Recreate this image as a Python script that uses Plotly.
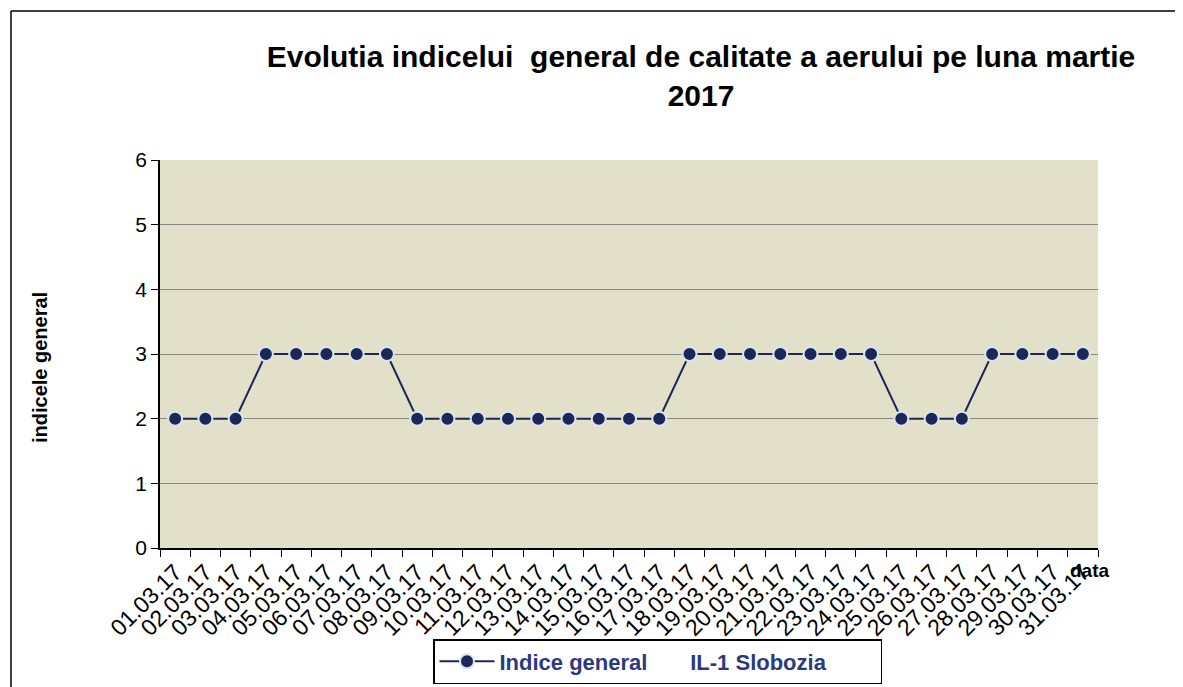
import plotly.graph_objects as go

dates = [f"{d:02d}.03.17" for d in range(1, 32)]
values = [2, 2, 2,
          3, 3, 3, 3, 3,
          2, 2, 2, 2, 2, 2, 2, 2, 2,
          3, 3, 3, 3, 3, 3, 3,
          2, 2, 2,
          3, 3, 3, 3]
y_ticks = [0, 1, 2, 3, 4, 5, 6]

OFF = 8  # page body margin
W, H = 1183 - OFF, 687 - OFF
# screen coordinates of the plot area
L, R, T, B = 160, 1098, 160, 548
def px(x):
    return (x - L) / (R - L)
def py(y):
    return (B - y) / (B - T)

navy = "#1c2657"
fig = go.Figure()
fig.add_trace(go.Scatter(
    x=dates, y=values, mode="lines+markers",
    name="Indice general&nbsp;&nbsp;&nbsp;&nbsp;&nbsp;&nbsp;&nbsp;IL-1 Slobozia&nbsp;&nbsp;&nbsp;&nbsp;&nbsp;&nbsp;&nbsp;&nbsp;",
    line=dict(color=navy, width=2),
    marker=dict(color=navy, size=14, line=dict(color="#d8e4f0", width=2)),
))

fig.update_layout(
    width=W, height=H,
    margin=dict(l=L - OFF, r=1183 - R, t=T - OFF, b=687 - B, autoexpand=False),
    paper_bgcolor="white",
    plot_bgcolor="#e3e0c9",
    font=dict(family="Arial, Liberation Sans, sans-serif", color="black"),
    title=dict(
        text="<b>Evolutia indicelui  general de calitate a aerului pe luna martie<br>2017</b>",
        font=dict(family="Liberation Sans Narrow, Arial Narrow, Arial, sans-serif", size=30, color="black"),
        x=(701 - OFF) / W, xanchor="center", y=1 - (67 - OFF) / H, yanchor="middle",
    ),
    showlegend=True,
    legend=dict(
        x=px(433), y=py(639), xanchor="left", yanchor="top",
        bgcolor="white", bordercolor="black", borderwidth=1.5,
        font=dict(family="Arial, sans-serif", size=22, color="#2b3a80", weight="bold"),
        itemwidth=55,
    ),
)
fig.update_xaxes(
    type="category", tickangle=-45, tickson="boundaries",
    showline=True, linecolor="black", linewidth=1.5,
    ticks="outside", ticklen=7, tickcolor="black",
    tickfont=dict(size=23, color="black"),
    showgrid=False, range=[-0.5, 30.5], fixedrange=True,
    automargin=False,
)
fig.update_yaxes(
    range=[0, 6], tickvals=y_ticks,
    showline=True, linecolor="black", linewidth=1.5,
    ticks="outside", ticklen=7, tickcolor="black",
    tickfont=dict(size=21, color="black"),
    showgrid=True, gridcolor="#8a8a80", gridwidth=1,
    zeroline=False, automargin=False,
)
fig.add_annotation(
    text="<b>indicele general</b>", x=px(40), y=py(368), xref="paper", yref="paper",
    xanchor="center", yanchor="middle",
    showarrow=False, textangle=-90, font=dict(size=20, color="black"),
)
fig.add_annotation(
    text="<b>data</b>", x=px(1068), y=py(570), xref="paper", yref="paper",
    xanchor="left", yanchor="middle",
    showarrow=False, font=dict(size=19, color="black"),
)
# outer frame (left and top edges)
fig.add_shape(type="line", xref="paper", yref="paper",
              x0=px(11), x1=px(11), y0=py(11), y1=py(700),
              line=dict(color="black", width=1.5))
fig.add_shape(type="line", xref="paper", yref="paper",
              x0=px(11), x1=px(1190), y0=py(11), y1=py(11),
              line=dict(color="black", width=1.5))

fig.write_html("out.html")
